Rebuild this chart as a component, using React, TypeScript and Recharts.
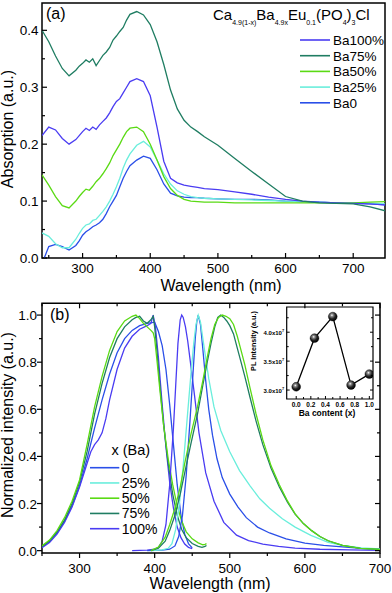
import React from 'react';
import { LineChart, Line, XAxis, YAxis, ReferenceArea } from 'recharts';

const FONT = '"Liberation Sans", Arial, Helvetica, sans-serif';

// ---------------- Panel (a): absorption ----------------
const absWl = [240, 250, 260, 270, 280, 290, 295, 300, 305, 310, 315, 320, 325, 330, 335, 340, 345, 350, 355, 360, 365, 370, 380, 390, 400, 410, 420, 430, 440, 450, 460, 470, 480, 500, 525, 550, 575, 600, 625, 650, 675, 700, 725, 750];
const absBa100 = [0.215, 0.23, 0.225, 0.21, 0.2, 0.208, 0.215, 0.222, 0.228, 0.224, 0.23, 0.226, 0.234, 0.24, 0.246, 0.255, 0.266, 0.275, 0.28, 0.29, 0.3, 0.31, 0.315, 0.31, 0.285, 0.23, 0.17, 0.14, 0.132, 0.128, 0.126, 0.124, 0.122, 0.12, 0.116, 0.112, 0.107, 0.103, 0.1, 0.098, 0.097, 0.096, 0.095, 0.093];
const absBa75 = [0.4, 0.38, 0.355, 0.333, 0.32, 0.33, 0.337, 0.342, 0.348, 0.344, 0.35, 0.338, 0.347, 0.356, 0.362, 0.37, 0.383, 0.39, 0.398, 0.405, 0.418, 0.428, 0.433, 0.427, 0.41, 0.38, 0.34, 0.295, 0.262, 0.242, 0.23, 0.222, 0.213, 0.198, 0.175, 0.152, 0.13, 0.108, 0.1, 0.097, 0.096, 0.095, 0.09, 0.082];
const absBa50 = [0.146, 0.128, 0.108, 0.092, 0.088, 0.1, 0.108, 0.115, 0.121, 0.119, 0.126, 0.134, 0.14, 0.148, 0.157, 0.167, 0.18, 0.19, 0.2, 0.212, 0.222, 0.228, 0.23, 0.222, 0.2, 0.172, 0.143, 0.122, 0.11, 0.103, 0.1, 0.099, 0.098, 0.098, 0.097, 0.097, 0.097, 0.097, 0.097, 0.097, 0.097, 0.097, 0.098, 0.099];
const absBa25 = [0.044, 0.038, 0.025, 0.018, 0.018, 0.033, 0.043, 0.052, 0.058, 0.06, 0.066, 0.068, 0.075, 0.082, 0.09, 0.1, 0.112, 0.125, 0.14, 0.158, 0.172, 0.183, 0.198, 0.205, 0.195, 0.172, 0.148, 0.13, 0.118, 0.112, 0.108, 0.106, 0.105, 0.104, 0.103, 0.102, 0.101, 0.1, 0.099, 0.098, 0.097, 0.097, 0.096, 0.095];
const absBa0 = [-0.01, 0.02, 0.024, 0.02, 0.014, 0.022, 0.03, 0.04, 0.046, 0.05, 0.055, 0.058, 0.062, 0.068, 0.078, 0.09, 0.1, 0.11, 0.125, 0.14, 0.152, 0.162, 0.172, 0.179, 0.175, 0.155, 0.13, 0.114, 0.109, 0.107, 0.106, 0.106, 0.105, 0.104, 0.103, 0.103, 0.102, 0.1, 0.099, 0.098, 0.097, 0.096, 0.095, 0.093];
const absXTicks = [250, 300, 350, 400, 450, 500, 550, 600, 650, 700];
const absYTicks = [0, 0.05, 0.1, 0.15, 0.2, 0.25, 0.3, 0.35, 0.4];
const absLegend = ['Ba100%', 'Ba75%', 'Ba50%', 'Ba25%', 'Ba0'];

// ---------------- Panel (b): normalized PL / PLE ----------------
const exc0Wl = [250, 260, 270, 280, 290, 300, 310, 320, 330, 340, 350, 360, 370, 380, 390, 400, 405, 410, 415, 420, 425, 430, 435, 440, 445, 450];
const exc0 = [0.015, 0.04, 0.075, 0.125, 0.19, 0.275, 0.39, 0.52, 0.64, 0.75, 0.84, 0.9, 0.935, 0.955, 0.965, 0.97, 0.93, 0.87, 0.77, 0.62, 0.45, 0.28, 0.15, 0.07, 0.03, 0.012];
const exc50Wl = [250, 260, 270, 280, 290, 300, 310, 320, 330, 340, 350, 360, 370, 375, 380, 385, 390, 395, 398, 400, 403, 407, 412, 418, 424, 430, 436, 442, 450, 458, 464, 467, 469];
const exc50 = [0.02, 0.045, 0.085, 0.14, 0.21, 0.3, 0.45, 0.61, 0.74, 0.85, 0.93, 0.975, 0.995, 1.0, 0.985, 0.965, 0.95, 0.935, 0.925, 0.9, 0.81, 0.68, 0.53, 0.39, 0.28, 0.19, 0.125, 0.08, 0.05, 0.033, 0.025, 0.027, 0.03];
const exc75Wl = [250, 260, 270, 280, 290, 300, 310, 320, 330, 340, 350, 360, 370, 375, 380, 385, 390, 395, 398, 400, 403, 407, 412, 418, 424, 430, 436, 442, 450, 458, 463, 467, 469];
const exc75 = [0.018, 0.042, 0.08, 0.13, 0.2, 0.29, 0.42, 0.58, 0.71, 0.82, 0.9, 0.95, 0.98, 0.99, 0.995, 0.975, 0.965, 0.98, 0.995, 0.95, 0.85, 0.7, 0.53, 0.37, 0.24, 0.15, 0.09, 0.055, 0.03, 0.018, 0.014, 0.018, 0.022];
const exc100Wl = [250, 260, 270, 280, 290, 300, 310, 315, 320, 325, 330, 335, 340, 350, 360, 370, 380, 390, 395, 398, 401, 405, 410, 415, 420, 425, 430, 435, 440, 445, 450];
const exc100 = [0.012, 0.035, 0.07, 0.12, 0.185, 0.27, 0.37, 0.42, 0.45, 0.47, 0.5, 0.56, 0.64, 0.77, 0.86, 0.91, 0.94, 0.955, 0.965, 1.0, 0.95, 0.82, 0.62, 0.44, 0.29, 0.18, 0.1, 0.055, 0.028, 0.014, 0.008];

const em0Wl = [390, 410, 420, 427, 432, 437, 442, 447, 451, 454, 456, 458, 461, 464, 468, 472, 477, 483, 490, 500, 511, 522, 537, 553, 575, 600, 625, 650, 675, 700];
const em0 = [0, 0.002, 0.006, 0.02, 0.06, 0.15, 0.32, 0.55, 0.75, 0.9, 0.97, 1.0, 0.96, 0.86, 0.72, 0.6, 0.49, 0.39, 0.31, 0.24, 0.185, 0.14, 0.1, 0.075, 0.05, 0.032, 0.022, 0.016, 0.01, 0.006];
const em25Wl = [395, 410, 418, 423, 428, 433, 438, 443, 448, 452, 455, 458, 461, 466, 472, 479, 488, 500, 513, 527, 540, 553, 570, 587, 608, 631, 650, 675, 700];
const em25 = [0, 0.003, 0.01, 0.03, 0.09, 0.2, 0.36, 0.55, 0.74, 0.88, 0.96, 1.0, 0.97, 0.86, 0.73, 0.61, 0.51, 0.42, 0.34, 0.275, 0.22, 0.18, 0.135, 0.1, 0.065, 0.035, 0.022, 0.012, 0.007];
const em50Wl = [395, 405, 414, 420, 427, 434, 440, 448, 457, 464, 470, 475, 480, 485, 490, 495, 500, 505, 510, 515, 520, 527, 535, 544, 555, 566, 577, 587, 598, 609, 620, 631, 650, 674, 700];
const em50 = [0, 0.015, 0.057, 0.11, 0.18, 0.27, 0.37, 0.49, 0.61, 0.72, 0.82, 0.9, 0.96, 0.99, 1.0, 0.995, 0.985, 0.96, 0.91, 0.85, 0.79, 0.69, 0.58, 0.47, 0.36, 0.28, 0.21, 0.156, 0.115, 0.085, 0.06, 0.042, 0.022, 0.01, 0.005];
const em75Wl = [395, 405, 414, 420, 427, 434, 440, 448, 457, 464, 470, 475, 480, 484, 488, 492, 496, 500, 505, 510, 515, 520, 527, 535, 544, 555, 566, 577, 587, 598, 609, 620, 631, 650, 674, 700];
const em75 = [0, 0.01, 0.04, 0.085, 0.15, 0.24, 0.33, 0.45, 0.58, 0.7, 0.8, 0.88, 0.95, 0.99, 1.0, 0.99, 0.975, 0.955, 0.92, 0.86, 0.8, 0.74, 0.65, 0.55, 0.45, 0.35, 0.27, 0.205, 0.155, 0.115, 0.085, 0.06, 0.042, 0.022, 0.01, 0.005];
const em100Wl = [370, 390, 400, 405, 410, 415, 420, 425, 428, 431, 434, 436, 438, 441, 444, 448, 453, 459, 468, 479, 492, 509, 525, 544, 565, 587, 620, 660, 700];
const em100 = [0, 0.002, 0.006, 0.014, 0.04, 0.11, 0.28, 0.52, 0.7, 0.88, 0.98, 1.0, 0.99, 0.95, 0.89, 0.79, 0.66, 0.5, 0.33, 0.21, 0.12, 0.066, 0.043, 0.028, 0.018, 0.011, 0.006, 0.003, 0.001];
const plXTicks = [250, 300, 350, 400, 450, 500, 550, 600, 650, 700];
const plYTicks = [0, 0.1, 0.2, 0.3, 0.4, 0.5, 0.6, 0.7, 0.8, 0.9, 1.0];
const plLegend = ['0', '25%', '50%', '75%', '100%'];

// ---------------- Inset: PL intensity vs Ba content ----------------
const insetBa = [0, 0.25, 0.5, 0.75, 1.0];
const insetPL = [3.057, 3.897, 4.27, 3.086, 3.276]; // x10^7
const insetXTicks = [0, 0.1, 0.2, 0.3, 0.4, 0.5, 0.6, 0.7, 0.8, 0.9, 1.0];
const insetYTicks = [3.0, 3.25, 3.5, 3.75, 4.0, 4.25];

// colors
const C_BA100 = '#4a3cf2';
const C_BA75 = '#1f7d62';
const C_BA50 = '#5ada14';
const C_BA25 = '#6aeedc';
const C_BA0 = '#2a4fe8';

const zip = (xs: number[], ys: number[]) => xs.map((x, i) => ({ x, y: ys[i] }));

const isMult = (v: number, step: number) => Math.abs(v / step - Math.round(v / step)) < 1e-6;

// layout (plot-area frames)
const A = { left: 42, top: 3, right: 385, bottom: 258 };
const B = { left: 42, top: 303.3, right: 380, bottom: 553 };
const BTOP = 296;
const I = { left: 286.7, top: 307, right: 373, bottom: 399 };
const ITOP = 300;
const ILEFT = 245;

function AbsXTick(props: any) {
  const { x, y, payload } = props;
  const v = payload.value;
  const major = isMult(v, 100);
  return (
    <g>
      <line x1={x} x2={x} y1={y} y2={y - (major ? 5 : 3)} stroke="#000" strokeWidth={1.2} />
      {major && (
        <text x={x} y={y + 15.3} textAnchor="middle" fontSize={13.5} fontFamily={FONT} fill="#000">{v}</text>
      )}
    </g>
  );
}
function AbsYTick(props: any) {
  const { x, y, payload } = props;
  const v = payload.value;
  const major = isMult(v, 0.1);
  return (
    <g>
      <line x1={x} x2={x + (major ? 5 : 3)} y1={y} y2={y} stroke="#000" strokeWidth={1.2} />
      {major && (
        <text x={x - 3.5} y={y + 5} textAnchor="end" fontSize={13.5} fontFamily={FONT} fill="#000">{v.toFixed(1)}</text>
      )}
    </g>
  );
}
function PlXTick(props: any) {
  const { x, y, payload } = props;
  const v = payload.value;
  const major = isMult(v, 100);
  const len = major ? 5 : 3;
  return (
    <g>
      <line x1={x} x2={x} y1={y} y2={y + len} stroke="#000" strokeWidth={1.2} />
      <line x1={x} x2={x} y1={B.top - BTOP} y2={B.top - BTOP + len} stroke="#000" strokeWidth={1.2} />
      {major && (
        <text x={x} y={y + 20.3} textAnchor="middle" fontSize={13.5} fontFamily={FONT} fill="#000">{v}</text>
      )}
    </g>
  );
}
function PlYTick(props: any) {
  const { x, y, payload } = props;
  const v = payload.value;
  const major = isMult(v, 0.2);
  const len = major ? 5 : 3;
  return (
    <g>
      <line x1={x - len} x2={x} y1={y} y2={y} stroke="#000" strokeWidth={1.2} />
      <line x1={B.right - len} x2={B.right} y1={y} y2={y} stroke="#000" strokeWidth={1.2} />
      {major && (
        <text x={x - 5} y={y + 5} textAnchor="end" fontSize={13.5} fontFamily={FONT} fill="#000">{v.toFixed(1)}</text>
      )}
    </g>
  );
}
function InXTick(props: any) {
  const { x, y, payload } = props;
  const v = payload.value;
  const major = isMult(v, 0.2);
  return (
    <g>
      <line x1={x} x2={x} y1={y} y2={y - (major ? 3 : 2)} stroke="#000" strokeWidth={1} />
      {major && (
        <text x={x} y={y + 8} textAnchor="middle" fontSize={6.5} fontWeight="bold" fontFamily={FONT} fill="#000">{v.toFixed(1)}</text>
      )}
    </g>
  );
}
function InYTick(props: any) {
  const { x, y, payload } = props;
  const v = payload.value;
  const major = isMult(v, 0.5);
  const len = major ? 3 : 2;
  return (
    <g>
      <line x1={x} x2={x + len} y1={y} y2={y} stroke="#000" strokeWidth={1} />
      <line x1={I.right - ILEFT - len} x2={I.right - ILEFT} y1={y} y2={y} stroke="#000" strokeWidth={1} />
      {major && (
        <text x={x - 2.5} y={y + 2.5} textAnchor="end" fontSize={6} fontWeight="bold" fontFamily={FONT} fill="#000">
          {v.toFixed(1)}x10<tspan fontSize={4} dy={-3}>7</tspan>
        </text>
      )}
    </g>
  );
}

function Sphere(props: any) {
  const { cx, cy, index } = props;
  if (cx == null || cy == null) return null;
  const id = `sph${index}`;
  return (
    <g key={id}>
      <defs>
        <radialGradient id={id} cx="40%" cy="35%" r="65%">
          <stop offset="0%" stopColor="#ffffff" />
          <stop offset="22%" stopColor="#8a8a8a" />
          <stop offset="60%" stopColor="#252525" />
          <stop offset="100%" stopColor="#000000" />
        </radialGradient>
      </defs>
      <circle cx={cx} cy={cy} r={4.4} fill={`url(#${id})`} stroke="#000" strokeWidth={0.4} />
    </g>
  );
}

const absColors = [C_BA100, C_BA75, C_BA50, C_BA25, C_BA0];
const plColors = [C_BA0, C_BA25, C_BA50, C_BA75, C_BA100];

export default function App() {
  const lw = 1.3;
  return (
    <div style={{ position: 'absolute', left: 0, top: 0, width: 392, height: 593, background: '#fff', overflow: 'hidden' }}>
      {/* Panel (a) */}
      <div style={{ position: 'absolute', left: 0, top: 0 }}>
        <LineChart width={392} height={300} margin={{ top: A.top, right: 392 - A.right, left: 0, bottom: 0 }}>
          <XAxis type="number" dataKey="x" domain={[240, 747]} allowDataOverflow ticks={absXTicks} interval={0}
            tickSize={0} tickMargin={0} tickLine={false} axisLine={false} height={300 - A.bottom} tick={AbsXTick} />
          <YAxis type="number" dataKey="y" domain={[0, 0.448]} allowDataOverflow ticks={absYTicks} interval={0}
            tickSize={0} tickMargin={0} tickLine={false} axisLine={false} width={A.left} tick={AbsYTick} />
          <Line data={zip(absWl, absBa0)} dataKey="y" stroke={C_BA0} strokeWidth={lw} dot={false} isAnimationActive={false} />
          <Line data={zip(absWl, absBa25)} dataKey="y" stroke={C_BA25} strokeWidth={lw} dot={false} isAnimationActive={false} />
          <Line data={zip(absWl, absBa50)} dataKey="y" stroke={C_BA50} strokeWidth={lw} dot={false} isAnimationActive={false} />
          <Line data={zip(absWl, absBa100)} dataKey="y" stroke={C_BA100} strokeWidth={lw} dot={false} isAnimationActive={false} />
          <Line data={zip(absWl, absBa75)} dataKey="y" stroke={C_BA75} strokeWidth={lw} dot={false} isAnimationActive={false} />
          <ReferenceArea x1={240} x2={747} y1={0} y2={0.448} fill="none" stroke="#000" strokeWidth={1.5} ifOverflow="visible" />
        </LineChart>
      </div>

      {/* Panel (b) */}
      <div style={{ position: 'absolute', left: 0, top: BTOP }}>
        <LineChart width={392} height={593 - BTOP} margin={{ top: B.top - BTOP, right: 392 - B.right, left: 0, bottom: 0 }}>
          <XAxis type="number" dataKey="x" domain={[250, 700]} allowDataOverflow ticks={plXTicks} interval={0}
            tickSize={0} tickMargin={0} tickLine={false} axisLine={false} height={593 - B.bottom} tick={PlXTick} />
          <YAxis type="number" dataKey="y" domain={[-0.01, 1.05]} allowDataOverflow ticks={plYTicks} interval={0}
            tickSize={0} tickMargin={0} tickLine={false} axisLine={false} width={B.left} tick={PlYTick} />
          <Line data={zip(exc0Wl, exc0)} dataKey="y" stroke={C_BA0} strokeWidth={lw} dot={false} isAnimationActive={false} />
          <Line data={zip(exc100Wl, exc100)} dataKey="y" stroke={C_BA100} strokeWidth={lw} dot={false} isAnimationActive={false} />
          <Line data={zip(exc75Wl, exc75)} dataKey="y" stroke={C_BA75} strokeWidth={lw} dot={false} isAnimationActive={false} />
          <Line data={zip(exc50Wl, exc50)} dataKey="y" stroke={C_BA50} strokeWidth={lw} dot={false} isAnimationActive={false} />
          <Line data={zip(em100Wl, em100)} dataKey="y" stroke={C_BA100} strokeWidth={lw} dot={false} isAnimationActive={false} />
          <Line data={zip(em0Wl, em0)} dataKey="y" stroke={C_BA0} strokeWidth={lw} dot={false} isAnimationActive={false} />
          <Line data={zip(em25Wl, em25)} dataKey="y" stroke={C_BA25} strokeWidth={lw} dot={false} isAnimationActive={false} />
          <Line data={zip(em75Wl, em75)} dataKey="y" stroke={C_BA75} strokeWidth={lw} dot={false} isAnimationActive={false} />
          <Line data={zip(em50Wl, em50)} dataKey="y" stroke={C_BA50} strokeWidth={lw} dot={false} isAnimationActive={false} />
          <ReferenceArea x1={250} x2={700} y1={-0.01} y2={1.05} fill="none" stroke="#000" strokeWidth={1.5} ifOverflow="visible" />
        </LineChart>
      </div>

      {/* Inset */}
      <div style={{ position: 'absolute', left: ILEFT, top: ITOP }}>
        <LineChart width={135} height={120} margin={{ top: I.top - ITOP, right: 135 - (I.right - ILEFT), left: 0, bottom: 0 }}>
          <XAxis type="number" dataKey="x" domain={[-0.13, 1.05]} allowDataOverflow ticks={insetXTicks} interval={0}
            tickSize={0} tickMargin={0} tickLine={false} axisLine={false} height={ITOP + 120 - I.bottom} tick={InXTick} />
          <YAxis type="number" dataKey="y" domain={[2.845, 4.436]} allowDataOverflow ticks={insetYTicks} interval={0}
            tickSize={0} tickMargin={0} tickLine={false} axisLine={false} width={I.left - ILEFT} tick={InYTick} />
          <Line data={zip(insetBa, insetPL)} dataKey="y" stroke="#000" strokeWidth={1.3} dot={Sphere} isAnimationActive={false} />
          <ReferenceArea x1={-0.13} x2={1.05} y1={2.845} y2={4.436} fill="none" stroke="#000" strokeWidth={1.2} ifOverflow="visible" />
        </LineChart>
      </div>

      {/* Text overlay: titles, legends, labels */}
      <svg width={392} height={593} style={{ position: 'absolute', left: 0, top: 0, pointerEvents: 'none' }} fontFamily={FONT}>
        {/* panel a */}
        <text x={46} y={18.5} fontSize={16} fill="#000">(a)</text>
        <text x={213} y={20} fontSize={15} fill="#000">
          Ca<tspan fontSize={7} dy={4.5}>4.9(1-x)</tspan>
          <tspan dy={-4.5}>Ba</tspan><tspan fontSize={7} dy={4.5}>4.9x</tspan>
          <tspan dy={-4.5}>Eu</tspan><tspan fontSize={7} dy={4.5}>0.1</tspan>
          <tspan dy={-4.5}>(PO</tspan><tspan fontSize={7} dy={4.5}>4</tspan>
          <tspan dy={-4.5}>)</tspan><tspan fontSize={7} dy={4.5}>3</tspan>
          <tspan dy={-4.5}>Cl</tspan>
        </text>
        {absLegend.map((name, i) => {
          const y = 40 + i * 15.7;
          return (
            <g key={name}>
              <line x1={300} x2={330} y1={y} y2={y} stroke={absColors[i]} strokeWidth={1.6} />
              <text x={333} y={y + 5} fontSize={13.5} fill="#000">{name}</text>
            </g>
          );
        })}
        <text x={221} y={290.5} fontSize={16} textAnchor="middle" fill="#000">Wavelength (nm)</text>
        <text transform="translate(12.5,129) rotate(-90)" fontSize={16} textAnchor="middle" fill="#000">Absorption (a.u.)</text>

        {/* panel b */}
        <text x={50} y={320} fontSize={16} fill="#000">(b)</text>
        <text x={111.5} y={455} fontSize={14.5} fill="#000">x (Ba)</text>
        {plLegend.map((name, i) => {
          const y = 467.7 + i * 15.25;
          return (
            <g key={name}>
              <line x1={90} x2={119.3} y1={y} y2={y} stroke={plColors[i]} strokeWidth={1.6} />
              <text x={121.7} y={y + 5} fontSize={14} fill="#000">{name}</text>
            </g>
          );
        })}
        <text x={210} y={589} fontSize={16} textAnchor="middle" fill="#000">Wavelength (nm)</text>
        <text transform="translate(12.5,425) rotate(-90)" fontSize={16} textAnchor="middle" fill="#000">Normalized intensity (a.u.)</text>

        {/* inset labels */}
        <text x={327} y={416} fontSize={8.5} fontWeight="bold" textAnchor="middle" fill="#000">Ba content (x)</text>
        <text transform="translate(256,341) rotate(-90)" fontSize={7.2} fontWeight="bold" textAnchor="middle" fill="#000">PL Intensity (a.u.)</text>
      </svg>
    </div>
  );
}
